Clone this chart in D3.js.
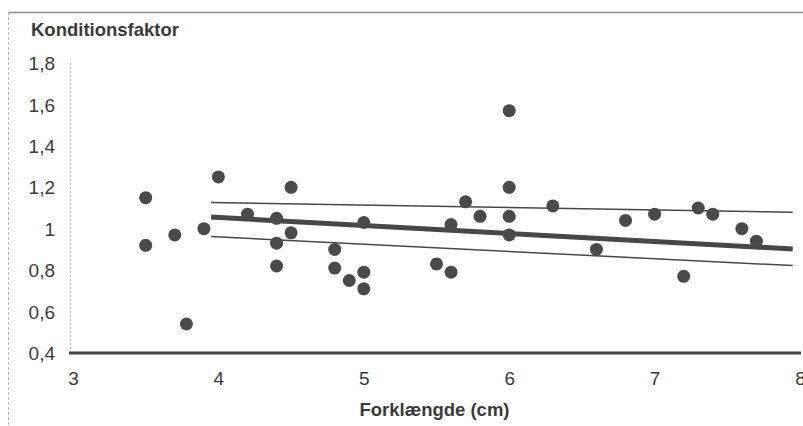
<!DOCTYPE html>
<html lang="da">
<head>
  <meta charset="UTF-8"/>
  <title>Konditionsfaktor mod forklængde</title>
  <script src="https://d3js.org/d3.v7.min.js"></script>
  <style>
    body { margin: 0; background: #fff; }
    text { font-family: "Liberation Sans", Arial, sans-serif; fill: #3a3a3a; }
  </style>
</head>
<body>
<script>

var forklaengde = [3.5, 3.5, 3.7, 3.78, 3.9, 4.0, 4.2, 4.4, 4.4, 4.4, 4.5, 4.5,
                   4.8, 4.8, 4.9, 5.0, 5.0, 5.0, 5.5, 5.6, 5.6, 5.7, 5.8, 6.0,
                   6.0, 6.0, 6.0, 6.3, 6.6, 6.8, 7.0, 7.2, 7.3, 7.4, 7.6, 7.7];
var kondition   = [1.15, 0.92, 0.97, 0.54, 1.0, 1.25, 1.07, 1.05, 0.93, 0.82, 1.2, 0.98,
                   0.9, 0.81, 0.75, 1.03, 0.79, 0.71, 0.83, 1.02, 0.79, 1.13, 1.06, 1.57,
                   1.2, 1.06, 0.97, 1.11, 0.9, 1.04, 1.07, 0.77, 1.1, 1.07, 1.0, 0.94];

// regression line + the two thin bands, given by their end points
var linjeX   = [3.95, 7.95];
var fit      = [1.056, 0.902];
var ovre     = [1.126, 1.08];
var nedre    = [0.962, 0.822];

var xTicks = [3, 4, 5, 6, 7, 8];
var yTicks = [0.4, 0.6, 0.8, 1.0, 1.2, 1.4, 1.6, 1.8];

var w = 803, h = 426;

var svg = d3.select("body").append("svg")
  .attr("width", w)
  .attr("height", h);

var x = d3.scaleLinear().domain([3, 8]).range([73, 800]);
var y = d3.scaleLinear().domain([0.4, 1.8]).range([353, 63]);

// frame of the scanned figure
svg.append("line")
  .attr("x1", 8).attr("x2", w).attr("y1", 12.5).attr("y2", 12.5)
  .attr("stroke", "#8a8a8a").attr("stroke-width", 1.5);
svg.append("line")
  .attr("x1", 8.5).attr("x2", 8.5).attr("y1", 12).attr("y2", h)
  .attr("stroke", "#bbb").attr("stroke-width", 1)
  .attr("stroke-dasharray", "3,2");

// dotted y axis line
svg.append("line")
  .attr("x1", 70.5).attr("x2", 70.5).attr("y1", y(1.8)).attr("y2", y(0.4))
  .attr("stroke", "#bbb").attr("stroke-width", 1)
  .attr("stroke-dasharray", "2,2");

// x axis
var xAxis = svg.append("g")
  .attr("transform", "translate(0," + y(0.4) + ")")
  .call(d3.axisBottom(x).tickValues(xTicks).tickSize(0).tickPadding(32)
        .tickFormat(d3.format("d")));
xAxis.select(".domain").remove();
xAxis.selectAll("text")
  .style("font-size", "19px").attr("fill", "#3a3a3a").attr("dy", "0");

svg.append("line")
  .attr("x1", 69).attr("x2", 801).attr("y1", y(0.4)).attr("y2", y(0.4))
  .attr("stroke", "#444").attr("stroke-width", 3);

// y axis labels
var fmt = function(d) { return d === 1 ? "1" : d3.format(".1f")(d).replace(".", ","); };
var yAxis = svg.append("g")
  .attr("transform", "translate(55,0)")
  .call(d3.axisLeft(y).tickValues(yTicks).tickSize(0).tickPadding(0).tickFormat(fmt));
yAxis.select(".domain").remove();
yAxis.selectAll("text")
  .style("font-size", "19px").attr("fill", "#3a3a3a").attr("dy", "0.35em");

// lines
var lineGen = d3.line()
  .x(function(d) { return x(d[0]); })
  .y(function(d) { return y(d[1]); });

[[ovre, 1.5], [nedre, 1.5], [fit, 5]].forEach(function(l) {
  svg.append("path")
    .datum(d3.zip(linjeX, l[0]))
    .attr("d", lineGen)
    .attr("fill", "none")
    .attr("stroke", "#474747")
    .attr("stroke-width", l[1]);
});

// points
svg.selectAll("circle")
  .data(d3.zip(forklaengde, kondition))
  .enter()
  .append("circle")
  .attr("cx", function(d) { return x(d[0]); })
  .attr("cy", function(d) { return y(d[1]); })
  .attr("r", 6.5)
  .attr("fill", "#4a4a4a");

// titles
svg.append("text")
  .attr("x", 31).attr("y", 36)
  .style("font-size", "18.5px").style("font-weight", "bold")
  .text("Konditionsfaktor");

svg.append("text")
  .attr("x", 434.5).attr("y", 416)
  .attr("text-anchor", "middle")
  .style("font-size", "18.5px").style("font-weight", "bold")
  .text("Forklængde (cm)");

</script>
</body>
</html>
